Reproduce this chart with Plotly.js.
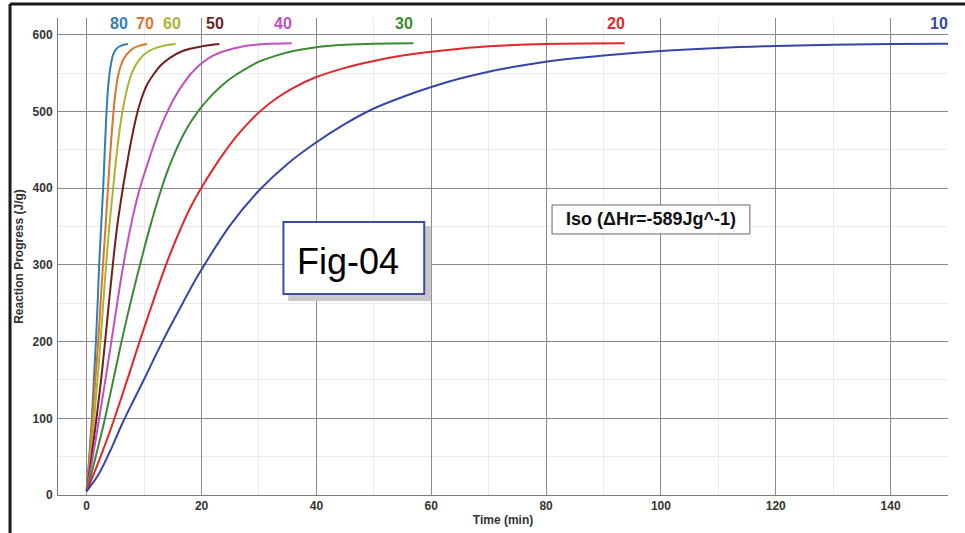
<!DOCTYPE html>
<html>
<head>
<meta charset="utf-8">
<script src="https://cdn.plot.ly/plotly-3.0.1.min.js"></script>
<style>
html,body{margin:0;padding:0;background:#fff;}
#chart{width:965px;height:533px;}
</style>
</head>
<body>
<div id="chart"></div>
<script>
// Series names (isothermal temperatures / labels)
const seriesNames = ["80", "70", "60", "50", "40", "30", "20", "10"];
const seriesColors = ["#2f7fb5", "#d9762b", "#a9b531", "#6e1f1f", "#c150c0", "#3a8a33", "#e2262a", "#3646a8"];

// Time (min) and reaction progress (J/g)
const t80 = [0, 0.45, 0.9, 1.25, 1.6, 1.9, 2.2, 2.55, 2.9, 3.15, 3.4, 3.65, 3.9, 4.25, 4.6, 5.2, 6.0, 7.2];
const v80 = [5, 50, 100, 150, 200, 250, 305, 355, 405, 450, 492, 524, 545, 563, 574, 582, 586, 588];
const t70 = [0, 0.5, 1.0, 1.5, 2.0, 2.4, 2.85, 3.3, 3.7, 4.1, 4.6, 5.0, 5.5, 6.2, 6.9, 7.7, 8.5, 10.5];
const v70 = [5, 50, 100, 150, 200, 248, 302, 352, 400, 446, 494, 524, 548, 565, 574, 580, 584, 588];
const t60 = [0, 0.6, 1.3, 1.9, 2.4, 2.9, 3.4, 4.0, 4.6, 5.3, 6.0, 6.8, 7.8, 9.0, 10.6, 13.0, 15.5];
const v60 = [5, 45, 100, 152, 200, 252, 302, 355, 400, 450, 490, 522, 549, 566, 578, 585, 588];
const t50 = [0, 0.8, 1.7, 2.5, 3.2, 3.9, 4.6, 5.3, 6.3, 7.0, 7.7, 8.6, 9.5, 10.5, 11.8, 13.0, 14.5, 16.7, 20.0, 23.1];
const v50 = [5, 48, 100, 150, 200, 253, 304, 350, 400, 431, 460, 492, 516, 535, 550, 561, 570, 579, 585, 588];
const t40 = [0, 1, 2, 3, 4, 5, 6, 7, 8, 9, 10, 11, 12, 13, 14, 15, 16, 17, 18, 19, 20, 22, 24, 26, 28, 31, 35.7];
const v40 = [5, 47, 92, 138, 186, 235, 283, 325, 362, 393, 418, 441, 463, 482, 499, 514, 527, 538, 548, 556, 563, 573, 579, 583, 586, 588, 589];
const t30 = [0, 1, 2, 3, 4, 5, 6, 7, 8, 9, 10, 11, 12, 13, 14, 15, 16, 17, 18, 19, 20, 22, 24, 26, 28, 30, 33, 36, 40, 45, 50, 56.9];
const v30 = [5, 33, 63, 94, 128, 163, 198, 231, 262, 292, 321, 349, 375, 399, 421, 440, 457, 472, 485, 496, 506, 523, 537, 548, 557, 565, 573, 579, 584, 587, 588.5, 589];
const t20 = [0, 2, 4, 6, 8, 10, 12, 14, 16, 18, 20, 22, 24, 26, 28, 30, 33, 36, 40, 45, 50, 55, 60, 65, 70, 80, 93.7];
const v20 = [5, 42, 82, 126, 172, 218, 262, 304, 341, 374, 401, 425, 447, 467, 484, 499, 517, 531, 545, 557, 566, 573, 578, 582, 585, 588, 589];
const t10 = [0, 2, 4, 6, 8, 10, 12, 14, 16, 18, 20, 25, 30, 35, 40, 45, 50, 55, 60, 65, 70, 75, 80, 90, 100, 110, 120, 130, 140, 150];
const v10 = [5, 26, 56, 90, 121, 151, 182, 212, 240, 268, 294, 352, 397, 432, 460, 484, 504, 519, 532, 543, 552, 559, 565, 573, 579, 583, 585.5, 587, 588, 588.5];

// Label positions for the series names (data coordinates)
const labelT = [5.6, 10.2, 14.8, 22.3, 34.1, 55.2, 92.2, 148.4];
const labelV = [615, 615, 615, 615, 615, 615, 615, 615];

const xTicks = [0, 20, 40, 60, 80, 100, 120, 140];
const yTicks = [0, 100, 200, 300, 400, 500, 600];

const ts = [t80, t70, t60, t50, t40, t30, t20, t10];
const vs = [v80, v70, v60, v50, v40, v30, v20, v10];

const traces = ts.map((t, i) => ({
  x: t, y: vs[i], type: "scatter", mode: "lines", name: seriesNames[i],
  line: {color: seriesColors[i], width: 2, shape: "spline", smoothing: 1},
  hoverinfo: "x+y+name", cliponaxis: true
}));

const annotations = seriesNames.map((n, i) => ({
  x: labelT[i], y: labelV[i], xref: "x", yref: "y", text: n, showarrow: false,
  font: {family: "Liberation Sans, Arial, sans-serif", size: 16, color: seriesColors[i], weight: "bold"},
  xanchor: "center", yanchor: "middle"
}));
annotations.push({
  x: 36.2, y: 305, xref: "x", yref: "y", text: "Fig-04", showarrow: false,
  font: {family: "Liberation Sans, Arial, sans-serif", size: 36, color: "#000"},
  xanchor: "left", yanchor: "middle"
});
annotations.push({
  x: 98.3, y: 359.3, xref: "x", yref: "y", text: "Iso (ΔHr=-589Jg^-1)", showarrow: false,
  font: {family: "Liberation Sans, Arial, sans-serif", size: 18, color: "#111", weight: "bold"},
  xanchor: "center", yanchor: "middle"
});

const shapes = [
  // outer frame (top and left edges)
  {type: "line", xref: "paper", yref: "paper", x0: -0.0539, x1: 1.03, y0: 1.0294, y1: 1.0294, line: {color: "#1a1a1a", width: 3}},
  {type: "line", xref: "paper", yref: "paper", x0: -0.0539, x1: -0.0539, y0: 1.0294, y1: -0.09, line: {color: "#1a1a1a", width: 3}},
  // Fig-04 box shadow and box
  {type: "rect", xref: "x", yref: "y", x0: 35.1, x1: 60.0, y0: 253, y1: 350.9, fillcolor: "#c8c8c8", line: {width: 0}, layer: "above"},
  {type: "rect", xref: "x", yref: "y", x0: 34.26, x1: 58.78, y0: 262.2, y1: 356.1, fillcolor: "#ffffff", line: {color: "#3a4ba8", width: 2}, layer: "above"},
  // Iso box
  {type: "rect", xref: "x", yref: "y", x0: 81.04, x1: 115.5, y0: 340.4, y1: 378.2, fillcolor: "#ffffff", line: {color: "#666666", width: 1}, layer: "above"}
];

const axisFont = {family: "Liberation Sans, Arial, sans-serif", size: 12, color: "#333", weight: "bold"};
const titleFont = {family: "Liberation Sans, Arial, sans-serif", size: 12, color: "#333", weight: "bold"};

const layout = {
  width: 965, height: 533,
  margin: {l: 58, r: 17, t: 18, b: 38, pad: 0},
  paper_bgcolor: "#ffffff", plot_bgcolor: "#ffffff",
  showlegend: false,
  xaxis: {
    range: [-5, 150], tickvals: xTicks, ticktext: xTicks.map(String),
    showgrid: true, gridcolor: "#8a8a8a", gridwidth: 1,
    minor: {dtick: 10, tick0: 0, showgrid: true, gridcolor: "#ebebeb", gridwidth: 1},
    zeroline: false, showline: true, linecolor: "#7a7a7a", linewidth: 1,
    ticks: "", tickfont: axisFont,
    title: {text: "Time (min)", font: titleFont, standoff: 3}
  },
  yaxis: {
    range: [0, 622], tickvals: yTicks, ticktext: yTicks.map(String),
    showgrid: true, gridcolor: "#8a8a8a", gridwidth: 1,
    minor: {dtick: 50, tick0: 0, showgrid: true, gridcolor: "#ebebeb", gridwidth: 1},
    zeroline: false, showline: true, linecolor: "#7a7a7a", linewidth: 1,
    ticks: "", tickfont: axisFont, ticklabelstandoff: 2,
    title: {text: "Reaction Progress (J/g)", font: titleFont, standoff: 6}
  },
  shapes: shapes,
  annotations: annotations
};

Plotly.newPlot("chart", traces, layout, {displayModeBar: false, staticPlot: true});
</script>
</body>
</html>
